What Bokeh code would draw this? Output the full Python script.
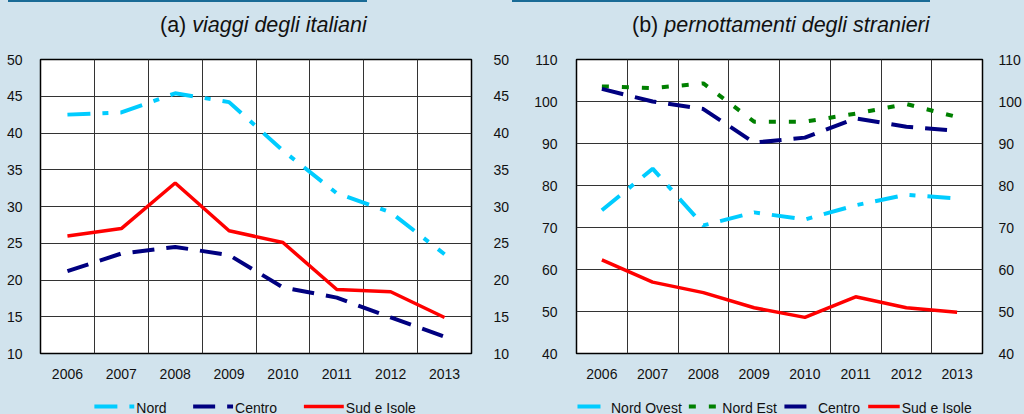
from bokeh.plotting import figure
from bokeh.models import LinearAxis, FixedTicker, Range1d, ColumnDataSource, Div
from bokeh.core.properties import value
from bokeh.layouts import row, column
from bokeh.embed import file_html
from bokeh.resources import INLINE

# ---------------- data ----------------
years = ["2006", "2007", "2008", "2009", "2010", "2011", "2012", "2013"]

# (a) viaggi degli italiani
a_series = ["Nord", "Centro", "Sud e Isole"]
a_nord = [42.5, 42.8, 45.4, 44.2, 37.6, 31.8, 29.2, 23.5]
a_centro = [21.2, 23.6, 24.5, 23.4, 19.0, 17.6, 14.9, 12.3]
a_sud = [26.0, 27.0, 33.2, 26.7, 25.1, 18.7, 18.4, 14.9]
a_ticks = [10, 15, 20, 25, 30, 35, 40, 45, 50]

# (b) pernottamenti degli stranieri
b_series = ["Nord Ovest", "Nord Est", "Centro", "Sud e Isole"]
b_nord_ovest = [74.1, 84.0, 70.5, 73.6, 71.9, 75.3, 77.8, 76.9]
b_nord_est = [103.6, 103.2, 104.3, 95.2, 95.2, 97.1, 99.4, 96.3]
b_centro = [103.0, 100.0, 98.2, 90.2, 91.4, 96.0, 94.0, 93.0]
b_sud = [62.3, 57.0, 54.5, 50.9, 48.6, 53.5, 50.9, 49.8]
b_ticks = [40, 50, 60, 70, 80, 90, 100, 110]

# ---------------- style ----------------
BG = "#D1E3ED"
FONT = "Liberation Sans"
TXT = "#111111"
CYAN = "#00CCFF"
NAVY = "#000080"
RED = "#FF0000"
GREEN = "#008000"
BAR = "#1A6B96"
DIV_H = 45         # title strip
MAIN_BOTTOM = 392  # bottom of the chart figure
LEG_H = 414 - MAIN_BOTTOM

NORD_DASH = "23 12 6 12"
CENTRO_DASH = "22 12"
EST_DASH = "7 13"
SOLID = "solid"

xs = list(range(len(years)))
labels_map = {i: y for i, y in enumerate(years)}


def make_fig(yr, yticks, bl, br, lstand, rstand):
    p = figure(width=512, height=MAIN_BOTTOM - DIV_H,
               x_range=Range1d(-0.5, len(years) - 0.5), y_range=Range1d(yr[0], yr[1]),
               output_backend="svg", toolbar_location=None,
               min_border_left=bl, min_border_right=br,
               min_border_top=59 - DIV_H, min_border_bottom=MAIN_BOTTOM - 353,
               background_fill_color="white", border_fill_color=BG)
    p.outline_line_color = "black"
    p.outline_line_width = 1.5
    p.xgrid.ticker = FixedTicker(ticks=[i + 0.5 for i in xs[:-1]])
    p.ygrid.ticker = FixedTicker(ticks=yticks)
    for g in (p.xgrid[0], p.ygrid[0]):
        g.grid_line_color = "#333333"
        g.grid_line_width = 1
    xa = p.xaxis[0]
    xa.ticker = FixedTicker(ticks=xs)
    xa.major_label_overrides = labels_map
    xa.major_label_standoff = 9
    ya = p.yaxis[0]
    ya.ticker = FixedTicker(ticks=yticks)
    ya.major_label_standoff = lstand
    ra = LinearAxis(ticker=FixedTicker(ticks=yticks), major_label_standoff=rstand)
    p.add_layout(ra, "right")
    for ax in (xa, ya, ra):
        ax.axis_line_color = None
        ax.major_tick_line_color = None
        ax.minor_tick_line_color = None
        ax.major_label_text_font = FONT
        ax.major_label_text_font_size = "14px"
        ax.major_label_text_color = TXT
    return p


def make_title(normal, italic, left, bar_left):
    html = (f'<div style="margin-left:{bar_left}px;height:2px;background:{BAR}"></div>'
            f'<div style="padding-left:{left}px;padding-top:10px;font-family:\'{FONT}\';'
            f'font-size:21.5px;line-height:26px;color:{TXT};white-space:nowrap">'
            f'{normal} <i>{italic}</i></div>')
    return Div(text=html, width=512, height=DIV_H, margin=0)


def make_legend(names, styles, starts, bl, br, glyph_w):
    """Legend strip whose frame matches the chart's frame; x range in pixels
    measured from the strip's left edge."""
    lf = figure(width=512, height=LEG_H, x_range=Range1d(bl, 512 - br),
                y_range=Range1d(0, LEG_H),
                output_backend="svg", toolbar_location=None,
                x_axis_type=None, y_axis_type=None,
                min_border_left=bl, min_border_right=br,
                min_border_top=0, min_border_bottom=0,
                background_fill_color=BG, border_fill_color=BG, outline_line_color=None)
    lf.xgrid.visible = False
    lf.ygrid.visible = False
    for (color, width, dash), x0 in zip(styles, starts):
        lf.segment(x0=[x0], y0=[8], x1=[x0 + glyph_w], y1=[8], line_color=color,
                   line_width=width, line_dash=dash)
    lf.text(x=[s + glyph_w + 2 for s in starts], y=[7] * len(names), text=names,
            text_font=value(FONT), text_font_size="14px", text_color=TXT,
            text_baseline="middle", text_align="left")
    return lf


# ---------------- panel (a) ----------------
pa = make_fig((10, 50), a_ticks, 40, 40, 12, 16)
sa = ColumnDataSource(dict(x=xs, nord=a_nord, centro=a_centro, sud=a_sud))
pa.line("x", "nord", source=sa, line_color=CYAN, line_width=4, line_dash=NORD_DASH)
pa.line("x", "centro", source=sa, line_color=NAVY, line_width=4, line_dash=CENTRO_DASH)
pa.line("x", "sud", source=sa, line_color=RED, line_width=3.5)
ta = make_title("(a)", "viaggi degli italiani", 160, 8)
la = make_legend(a_series,
                 [(CYAN, 4, NORD_DASH), (NAVY, 4, CENTRO_DASH), (RED, 3.5, SOLID)],
                 [94, 193, 304], 40, 40, 40)

# ---------------- panel (b) ----------------
pb = make_fig((40, 110), b_ticks, 64, 36, 13, 10)
sb = ColumnDataSource(dict(x=xs, no=b_nord_ovest, ne=b_nord_est, ce=b_centro, sud=b_sud))
pb.line("x", "no", source=sb, line_color=CYAN, line_width=4, line_dash=NORD_DASH)
pb.line("x", "ne", source=sb, line_color=GREEN, line_width=4, line_dash=EST_DASH)
pb.line("x", "ce", source=sb, line_color=NAVY, line_width=4, line_dash=CENTRO_DASH)
pb.line("x", "sud", source=sb, line_color=RED, line_width=3.5)
tb = make_title("(b)", "pernottamenti degli stranieri", 120, 0)
lb = make_legend(b_series,
                 [(CYAN, 4, NORD_DASH), (GREEN, 4, EST_DASH), (NAVY, 4, CENTRO_DASH),
                  (RED, 3.5, SOLID)],
                 [65, 178, 275, 360], 64, 36, 32)

layout = row(column(ta, pa, la), column(tb, pb, lb), styles={"background-color": BG})

open("out.html", "w").write(file_html(layout, INLINE))
